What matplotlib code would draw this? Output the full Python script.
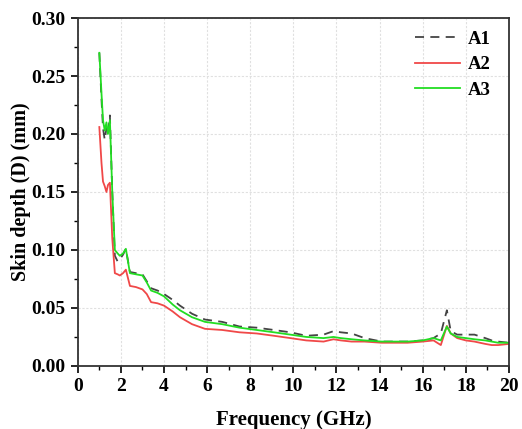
import matplotlib
matplotlib.use("Agg")
import matplotlib.pyplot as plt
from matplotlib.ticker import MultipleLocator, AutoMinorLocator

plt.rcParams['font.family'] = ['Liberation Serif', 'DejaVu Serif']
plt.rcParams['font.weight'] = 'bold'

# Frequency grid (GHz) shared by the three samples
freq = [1.0, 1.1, 1.17, 1.25, 1.33, 1.4, 1.49, 1.6, 1.72, 1.85, 1.95, 2.1, 2.23,
        2.42, 2.7, 3.0, 3.2, 3.4, 3.7, 4.0, 4.4, 4.74, 5.3, 5.9, 6.7, 7.5, 8.3,
        9.1, 9.86, 10.6, 11.4, 11.86, 12.2, 12.7, 13.3, 14.1, 14.7, 15.3, 16.0,
        16.5, 16.84, 17.12, 17.3, 17.6, 18.0, 18.4, 18.9, 19.2, 19.5, 20.0]

# Skin depth (mm)
a1 = [0.270, 0.230, 0.205, 0.195, 0.205, 0.200, 0.216, 0.150, 0.095, 0.090,
      0.092, 0.096, 0.101, 0.081, 0.080, 0.079, 0.073, 0.067, 0.065, 0.062,
      0.057, 0.052, 0.045, 0.040, 0.038, 0.034, 0.033, 0.031, 0.029, 0.026,
      0.027, 0.030, 0.029, 0.028, 0.024, 0.021, 0.021, 0.021, 0.022, 0.024,
      0.028, 0.048, 0.030, 0.027, 0.027, 0.027, 0.024, 0.022, 0.021, 0.020]
a2 = [0.206, 0.175, 0.159, 0.155, 0.150, 0.156, 0.158, 0.110, 0.080, 0.079,
      0.078, 0.080, 0.083, 0.069, 0.068, 0.066, 0.062, 0.055, 0.054, 0.052,
      0.047, 0.042, 0.036, 0.032, 0.031, 0.029, 0.028, 0.026, 0.024, 0.022,
      0.021, 0.023, 0.022, 0.021, 0.021, 0.020, 0.020, 0.020, 0.021, 0.022,
      0.018, 0.0345, 0.028, 0.024, 0.022, 0.021, 0.019, 0.018, 0.018, 0.019]
a3 = [0.270, 0.235, 0.212, 0.203, 0.210, 0.200, 0.212, 0.150, 0.100, 0.097,
      0.095, 0.097, 0.101, 0.080, 0.079, 0.078, 0.072, 0.065, 0.063, 0.060,
      0.053, 0.048, 0.042, 0.038, 0.036, 0.033, 0.031, 0.029, 0.027, 0.025,
      0.024, 0.025, 0.024, 0.023, 0.022, 0.021, 0.021, 0.021, 0.022, 0.024,
      0.022, 0.034, 0.028, 0.025, 0.024, 0.023, 0.022, 0.021, 0.020, 0.020]

fig = plt.figure(figsize=(5.22, 4.29), dpi=100)
ax = fig.add_axes([0.149, 0.147, 0.826, 0.811])

ax.plot(freq, a1, color='#444444', lw=1.3, ls=(0, (5, 3.5)), label='A1')
ax.plot(freq, a2, color='#f04848', lw=1.3, label='A2')
ax.plot(freq, a3, color='#22dd22', lw=1.3, label='A3')

ax.set_xlim(0, 20)
ax.set_ylim(0, 0.30)
ax.xaxis.set_major_locator(MultipleLocator(2))
ax.yaxis.set_major_locator(MultipleLocator(0.05))
ax.xaxis.set_minor_locator(AutoMinorLocator(2))
ax.yaxis.set_minor_locator(AutoMinorLocator(2))
ax.yaxis.set_major_formatter(plt.FormatStrFormatter('%.2f'))

ax.grid(True, which='major', color='#e0e0e0', lw=0.8, ls=(0, (2, 1.5)))
ax.set_axisbelow(True)

for s in ax.spines.values():
    s.set_linewidth(1.3)
    s.set_color('#333333')
ax.tick_params(which='major', direction='out', length=5, width=1.2,
               labelsize=14, pad=4)
ax.tick_params(which='minor', direction='out', length=3, width=1.0)

ax.set_xlabel('Frequency (GHz)', fontsize=15, fontweight='bold', labelpad=10.5)
ax.set_ylabel('Skin depth (D) (mm)', fontsize=14.5, fontweight='bold', labelpad=0)

leg = ax.legend(loc='upper right', frameon=False, fontsize=13.5,
                handlelength=2.4, handletextpad=0.4, labelspacing=0.45,
                borderaxespad=0.5, bbox_to_anchor=(0.997, 1.012))

fig.savefig('out.png', dpi=100)
